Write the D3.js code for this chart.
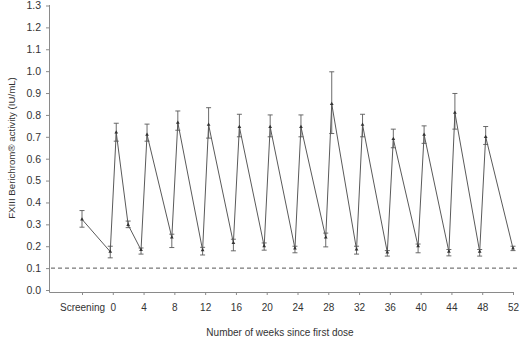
<!DOCTYPE html>
<html>
<head>
<meta charset="utf-8">
<script src="https://cdn.jsdelivr.net/npm/d3@7"></script>
<style>
  body { margin: 0; background: #fff; }
  text { font-family: "Liberation Sans", Arial, sans-serif; }
</style>
</head>
<body>
<script>
// data

const tickWeeks = [-4, 0, 4, 8, 12, 16, 20, 24, 28, 32, 36, 40, 44, 48, 52];
const tickLabels = ["Screening", "0", "4", "8", "12", "16", "20", "24", "28", "32", "36", "40", "44", "48", "52"];
const yTicks = [0, 0.1, 0.2, 0.3, 0.4, 0.5, 0.6, 0.7, 0.8, 0.9, 1.0, 1.1, 1.2, 1.3];

// each sample: week, when it was taken relative to the dose, mean and error bar ends
const weeks  = [-4, 0, 0, 2, 4, 4, 8, 8, 12, 12, 16, 16, 20, 20, 24, 24, 28, 28, 32, 32, 36, 36, 40, 40, 44, 44, 48, 48, 52];
const timing = ["on", "pre", "post", "on", "pre", "post", "pre", "post", "pre", "post", "pre", "post", "pre", "post",
                "pre", "post", "pre", "post", "pre", "post", "pre", "post", "pre", "post", "pre", "post", "pre", "post", "on"];
const means  = [0.323, 0.175, 0.72, 0.297, 0.183, 0.71, 0.24, 0.765, 0.182, 0.755, 0.215, 0.745, 0.2, 0.745,
                0.19, 0.745, 0.24, 0.85, 0.185, 0.755, 0.172, 0.69, 0.2, 0.71, 0.175, 0.81, 0.175, 0.70, 0.19];
const lows   = [0.287, 0.147, 0.68, 0.285, 0.164, 0.68, 0.194, 0.73, 0.16, 0.694, 0.179, 0.70, 0.182, 0.70,
                0.17, 0.70, 0.197, 0.715, 0.164, 0.70, 0.155, 0.65, 0.17, 0.67, 0.156, 0.735, 0.155, 0.665, 0.18];
const highs  = [0.363, 0.200, 0.762, 0.315, 0.192, 0.758, 0.255, 0.818, 0.195, 0.833, 0.232, 0.803, 0.215, 0.80,
                0.20, 0.80, 0.26, 0.997, 0.20, 0.803, 0.18, 0.735, 0.21, 0.75, 0.185, 0.898, 0.185, 0.747, 0.20];
const threshold = 0.1;

const samples = weeks.map((w, i) => ({
    week: w, timing: timing[i], mean: means[i], low: lows[i], high: highs[i]
}));

// dimensions

const dms = { width: 520, height: 338 };
const dodge = { pre: -0.33, post: 0.45, on: 0 };
const lineColor = "#5a5a5a";
const axisColor = "#8a8a8a";
const textColor = "#333";

const svg = d3.select("body")
    .append("svg")
        .attr("width", dms.width)
        .attr("height", dms.height);

// scales

const xScale = d3.scaleLinear()
    .domain([-4, 52])
    .range([82, 513]);

const yScale = d3.scaleLinear()
    .domain([0, 1.3])
    .range([290, 5.5]);

const xOf = d => xScale(d.week + dodge[d.timing]);

// axes

const yAxis = d3.axisLeft(yScale)
    .tickValues(yTicks)
    .tickFormat(d3.format(".1f"))
    .tickSize(4)
    .tickPadding(5);

const yG = svg.append("g")
    .attr("transform", "translate(50,0)")
    .call(yAxis);
yG.select(".domain").attr("d", "M-0.5,5V292.5H0");

const xAxis = d3.axisBottom(xScale)
    .tickValues(tickWeeks)
    .tickFormat((d, i) => tickLabels[i])
    .tickSize(3)
    .tickSizeOuter(0)
    .tickPadding(9);

const xG = svg.append("g")
    .attr("transform", "translate(0,292)")
    .call(xAxis);
xG.select(".domain").attr("d", "M50,0.5H514");

svg.selectAll(".domain, .tick line")
    .attr("stroke", axisColor)
    .attr("stroke-width", 1);
svg.selectAll(".tick text")
    .attr("fill", textColor)
    .style("font-size", "10px");
yG.selectAll(".tick text")
    .style("font-size", "10.5px");

// reference line

svg.append("line")
    .attr("x1", 51)
    .attr("x2", 520)
    .attr("y1", yScale(threshold))
    .attr("y2", yScale(threshold))
    .attr("stroke", "#555")
    .attr("stroke-width", 1)
    .attr("stroke-dasharray", "4,3");

// connecting line

const line = d3.line()
    .x(xOf)
    .y(d => yScale(d.mean));

svg.append("path")
    .datum(samples)
    .attr("d", line)
    .attr("fill", "none")
    .attr("stroke", lineColor)
    .attr("stroke-width", 1);

// error bars

const bars = svg.append("g")
    .attr("stroke", lineColor)
    .attr("stroke-width", 0.9)
    .selectAll("g")
    .data(samples)
    .join("g");

bars.append("line")
    .attr("x1", xOf).attr("x2", xOf)
    .attr("y1", d => yScale(d.low))
    .attr("y2", d => yScale(d.high));

bars.append("line")
    .attr("x1", d => xOf(d) - 2.5).attr("x2", d => xOf(d) + 2.5)
    .attr("y1", d => yScale(d.high))
    .attr("y2", d => yScale(d.high));

bars.append("line")
    .attr("x1", d => xOf(d) - 2.5).attr("x2", d => xOf(d) + 2.5)
    .attr("y1", d => yScale(d.low))
    .attr("y2", d => yScale(d.low));

// markers

svg.append("g")
    .selectAll("path")
    .data(samples)
    .join("path")
        .attr("d", d3.symbol(d3.symbolTriangle, 6))
        .attr("transform", d => `translate(${xOf(d)},${yScale(d.mean)})`)
        .attr("fill", "#333");

// titles

svg.append("text")
    .attr("x", 280)
    .attr("y", 336)
    .attr("text-anchor", "middle")
    .attr("fill", textColor)
    .style("font-size", "10px")
    .text("Number of weeks since first dose");

svg.append("text")
    .attr("transform", "translate(15,148) rotate(-90)")
    .attr("text-anchor", "middle")
    .attr("fill", textColor)
    .style("font-size", "9.7px")
    .text("FXIII Berichrom® activity (IU/mL)");
</script>
</body>
</html>
